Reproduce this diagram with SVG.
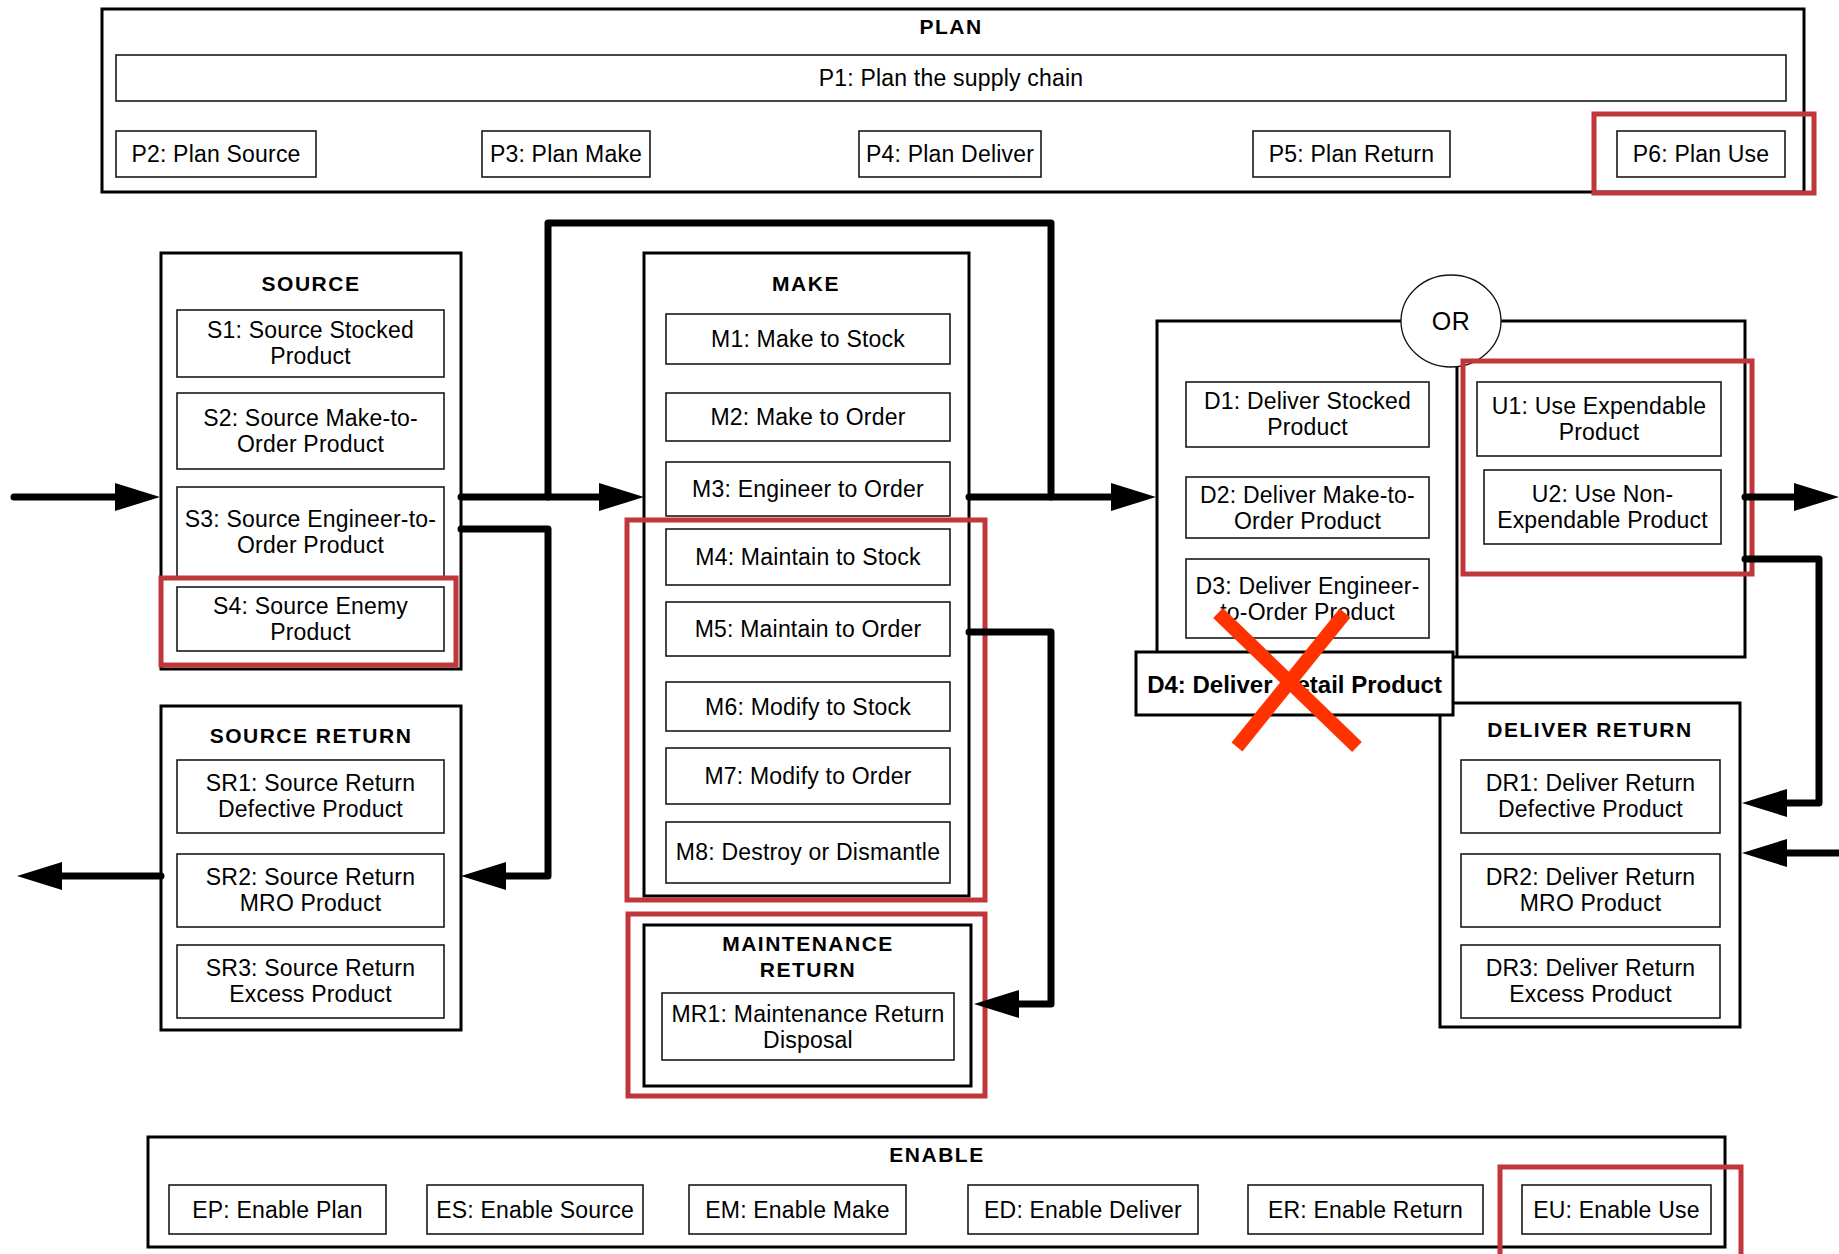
<svg xmlns="http://www.w3.org/2000/svg" width="1839" height="1254" viewBox="0 0 1839 1254">
  <style>
    .panel { fill: #fff; stroke: #000; stroke-width: 3; }
    .box { fill: #fff; stroke: #1a1a1a; stroke-width: 1.6; }
    .bold-box { fill: #fff; stroke: #000; stroke-width: 3; }
    .hl { fill: none; stroke: #c1363a; stroke-width: 5; }
    .conn { fill: none; stroke: #000; stroke-width: 7; stroke-linecap: round; stroke-linejoin: round; }
    .t { font-family: "Liberation Sans", Arial, sans-serif; font-size: 23px; letter-spacing: 0.2px; text-anchor: middle; fill: #000; }
    .h { font-family: "Liberation Sans", Arial, sans-serif; font-size: 21px; font-weight: bold; letter-spacing: 1.5px; text-anchor: middle; fill: #000; }
    .d4 { font-family: "Liberation Sans", Arial, sans-serif; font-size: 24px; font-weight: bold; text-anchor: middle; fill: #000; }
    .or { font-family: "Liberation Sans", Arial, sans-serif; font-size: 25px; letter-spacing: 0.5px; text-anchor: middle; fill: #000; }
    .cross { stroke: #ff3300; stroke-width: 14; }
  </style>
  <defs>
    <marker id="ah" markerUnits="userSpaceOnUse" markerWidth="46" markerHeight="30" refX="0" refY="14" orient="auto">
      <path d="M0,0 L45,14 L0,28 z" fill="#000"/>
    </marker>
  </defs>

  <rect width="1839" height="1254" fill="#fff"/>

  <!-- PLAN -->
  <g id="plan">
    <rect class="panel" x="102" y="9" width="1702" height="183"/>
    <text class="h" x="951" y="34">PLAN</text>
    <g id="p1"><rect class="box" x="116" y="55" width="1670" height="46"/><text class="t" x="951" y="86">P1: Plan the supply chain</text></g>
    <g id="p2"><rect class="box" x="116" y="131" width="200" height="46"/><text class="t" x="216" y="162">P2: Plan Source</text></g>
    <g id="p3"><rect class="box" x="482" y="131" width="168" height="46"/><text class="t" x="566" y="162">P3: Plan Make</text></g>
    <g id="p4"><rect class="box" x="859" y="131" width="182" height="46"/><text class="t" x="950" y="162">P4: Plan Deliver</text></g>
    <g id="p5"><rect class="box" x="1253" y="131" width="197" height="46"/><text class="t" x="1351.5" y="162">P5: Plan Return</text></g>
    <g id="p6"><rect class="box" x="1617" y="131" width="168" height="46"/><text class="t" x="1701" y="162">P6: Plan Use</text></g>
  </g>

  <!-- SOURCE -->
  <g id="source">
    <rect class="panel" x="161" y="253" width="300" height="416"/>
    <text class="h" x="311" y="291">SOURCE</text>
    <g id="s1"><rect class="box" x="177" y="310" width="267" height="67"/><text class="t" x="310.5" y="338">S1: Source Stocked</text><text class="t" x="310.5" y="364">Product</text></g>
    <g id="s2"><rect class="box" x="177" y="393" width="267" height="76"/><text class="t" x="310.5" y="426">S2: Source Make-to-</text><text class="t" x="310.5" y="452">Order Product</text></g>
    <g id="s3"><rect class="box" x="177" y="487" width="267" height="90"/><text class="t" x="310.5" y="527">S3: Source Engineer-to-</text><text class="t" x="310.5" y="553">Order Product</text></g>
    <g id="s4"><rect class="box" x="177" y="587" width="267" height="64"/><text class="t" x="310.5" y="614">S4: Source Enemy</text><text class="t" x="310.5" y="640">Product</text></g>
  </g>

  <!-- SOURCE RETURN -->
  <g id="source-return">
    <rect class="panel" x="161" y="706" width="300" height="324"/>
    <text class="h" x="311" y="743">SOURCE RETURN</text>
    <g id="sr1"><rect class="box" x="177" y="760" width="267" height="73"/><text class="t" x="310.5" y="791">SR1: Source Return</text><text class="t" x="310.5" y="817">Defective Product</text></g>
    <g id="sr2"><rect class="box" x="177" y="854" width="267" height="73"/><text class="t" x="310.5" y="885">SR2: Source Return</text><text class="t" x="310.5" y="911">MRO Product</text></g>
    <g id="sr3"><rect class="box" x="177" y="945" width="267" height="73"/><text class="t" x="310.5" y="976">SR3: Source Return</text><text class="t" x="310.5" y="1002">Excess Product</text></g>
  </g>

  <!-- MAKE -->
  <g id="make">
    <rect class="panel" x="644" y="253" width="325" height="643"/>
    <text class="h" x="806" y="291">MAKE</text>
    <g id="m1"><rect class="box" x="666" y="314" width="284" height="50"/><text class="t" x="808" y="347">M1: Make to Stock</text></g>
    <g id="m2"><rect class="box" x="666" y="393" width="284" height="48"/><text class="t" x="808" y="425">M2: Make to Order</text></g>
    <g id="m3"><rect class="box" x="666" y="462" width="284" height="54"/><text class="t" x="808" y="497">M3: Engineer to Order</text></g>
    <g id="m4"><rect class="box" x="666" y="529" width="284" height="56"/><text class="t" x="808" y="565">M4: Maintain to Stock</text></g>
    <g id="m5"><rect class="box" x="666" y="602" width="284" height="54"/><text class="t" x="808" y="637">M5: Maintain to Order</text></g>
    <g id="m6"><rect class="box" x="666" y="682" width="284" height="49"/><text class="t" x="808" y="714.5">M6: Modify to Stock</text></g>
    <g id="m7"><rect class="box" x="666" y="748" width="284" height="56"/><text class="t" x="808" y="784">M7: Modify to Order</text></g>
    <g id="m8"><rect class="box" x="666" y="822" width="284" height="61"/><text class="t" x="808" y="860">M8: Destroy or Dismantle</text></g>
  </g>

  <!-- MAINTENANCE RETURN -->
  <g id="maintenance-return">
    <rect class="panel" x="644" y="925" width="327" height="161"/>
    <text class="h" x="808" y="951">MAINTENANCE</text>
    <text class="h" x="808" y="977">RETURN</text>
    <g id="mr1"><rect class="box" x="662" y="993" width="292" height="67"/><text class="t" x="808" y="1021.5">MR1: Maintenance Return</text><text class="t" x="808" y="1047.5">Disposal</text></g>
  </g>

  <!-- DELIVER / USE -->
  <g id="deliver-use">
    <rect class="panel" x="1157" y="321" width="588" height="336"/>
    <line x1="1457" y1="362" x2="1457" y2="657" stroke="#000" stroke-width="3"/>
    <g id="or">
      <ellipse cx="1451" cy="321" rx="50" ry="46" fill="#fff" stroke="#111" stroke-width="1.3"/>
      <text class="or" x="1451" y="330">OR</text>
    </g>
    <g id="d1"><rect class="box" x="1186" y="382" width="243" height="65"/><text class="t" x="1307.5" y="409">D1: Deliver Stocked</text><text class="t" x="1307.5" y="435">Product</text></g>
    <g id="d2"><rect class="box" x="1186" y="477" width="243" height="61"/><text class="t" x="1307.5" y="502.5">D2: Deliver Make-to-</text><text class="t" x="1307.5" y="528.5">Order Product</text></g>
    <g id="d3"><rect class="box" x="1186" y="559" width="243" height="79"/><text class="t" x="1307.5" y="593.5">D3: Deliver Engineer-</text><text class="t" x="1307.5" y="619.5">to-Order Product</text></g>
    <g id="u1"><rect class="box" x="1477" y="382" width="244" height="74"/><text class="t" x="1599" y="414">U1: Use Expendable</text><text class="t" x="1599" y="440">Product</text></g>
    <g id="u2"><rect class="box" x="1484" y="470" width="237" height="74"/><text class="t" x="1602.5" y="502">U2: Use Non-</text><text class="t" x="1602.5" y="528">Expendable Product</text></g>
  </g>

  <!-- DELIVER RETURN -->
  <g id="deliver-return">
    <rect class="panel" x="1440" y="703" width="300" height="324"/>
    <text class="h" x="1590" y="737">DELIVER RETURN</text>
    <g id="dr1"><rect class="box" x="1461" y="760" width="259" height="73"/><text class="t" x="1590.5" y="791">DR1: Deliver Return</text><text class="t" x="1590.5" y="817">Defective Product</text></g>
    <g id="dr2"><rect class="box" x="1461" y="854" width="259" height="73"/><text class="t" x="1590.5" y="885">DR2: Deliver Return</text><text class="t" x="1590.5" y="911">MRO Product</text></g>
    <g id="dr3"><rect class="box" x="1461" y="945" width="259" height="73"/><text class="t" x="1590.5" y="976">DR3: Deliver Return</text><text class="t" x="1590.5" y="1002">Excess Product</text></g>
  </g>

  <!-- D4 sits over the corner of the deliver panel -->
  <g id="d4">
    <rect class="bold-box" x="1136" y="652" width="317" height="63"/>
    <text class="d4" x="1294.5" y="693">D4: Deliver Retail Product</text>
  </g>

  <!-- ENABLE -->
  <g id="enable">
    <rect class="panel" x="148" y="1137" width="1577" height="110"/>
    <text class="h" x="937" y="1162">ENABLE</text>
    <g id="ep"><rect class="box" x="169" y="1185" width="217" height="49"/><text class="t" x="277.5" y="1217.5">EP: Enable Plan</text></g>
    <g id="es"><rect class="box" x="427" y="1185" width="216" height="49"/><text class="t" x="535" y="1217.5">ES: Enable Source</text></g>
    <g id="em"><rect class="box" x="689" y="1185" width="217" height="49"/><text class="t" x="797.5" y="1217.5">EM: Enable Make</text></g>
    <g id="ed"><rect class="box" x="968" y="1185" width="230" height="49"/><text class="t" x="1083" y="1217.5">ED: Enable Deliver</text></g>
    <g id="er"><rect class="box" x="1248" y="1185" width="235" height="49"/><text class="t" x="1365.5" y="1217.5">ER: Enable Return</text></g>
    <g id="eu"><rect class="box" x="1522" y="1185" width="189" height="49"/><text class="t" x="1616.5" y="1217.5">EU: Enable Use</text></g>
  </g>

  <!-- highlight frames -->
  <g id="highlights">
    <rect class="hl" x="1594" y="114" width="220" height="79"/>
    <rect class="hl" x="161" y="578" width="295" height="87"/>
    <rect class="hl" x="627" y="520" width="358" height="380"/>
    <rect class="hl" x="628" y="914" width="357" height="182"/>
    <rect class="hl" x="1463" y="361" width="289" height="213"/>
    <rect class="hl" x="1500" y="1167" width="241" height="100"/>
  </g>

  <!-- connectors -->
  <g id="connectors">
    <path class="conn" d="M14,497 H115" marker-end="url(#ah)"/>
    <path class="conn" d="M461,497 H599" marker-end="url(#ah)"/>
    <path class="conn" d="M548,497 V223 H1051 V497"/>
    <path class="conn" d="M461,529 H548 V876 H506" marker-end="url(#ah)"/>
    <path class="conn" d="M969,497 H1111" marker-end="url(#ah)"/>
    <path class="conn" d="M969,632 H1051 V1004 H1019" marker-end="url(#ah)"/>
    <path class="conn" d="M161,876 H62" marker-end="url(#ah)"/>
    <path class="conn" d="M1745,497 H1794" marker-end="url(#ah)"/>
    <path class="conn" d="M1745,559 H1819 V803 H1787" marker-end="url(#ah)"/>
    <path class="conn" d="M1850,853 H1787" marker-end="url(#ah)"/>
  </g>

  <!-- strike-through over D4 -->
  <g id="cross">
    <line class="cross" x1="1218" y1="613" x2="1357" y2="747"/>
    <line class="cross" x1="1345" y1="613" x2="1237" y2="747"/>
  </g>
</svg>
